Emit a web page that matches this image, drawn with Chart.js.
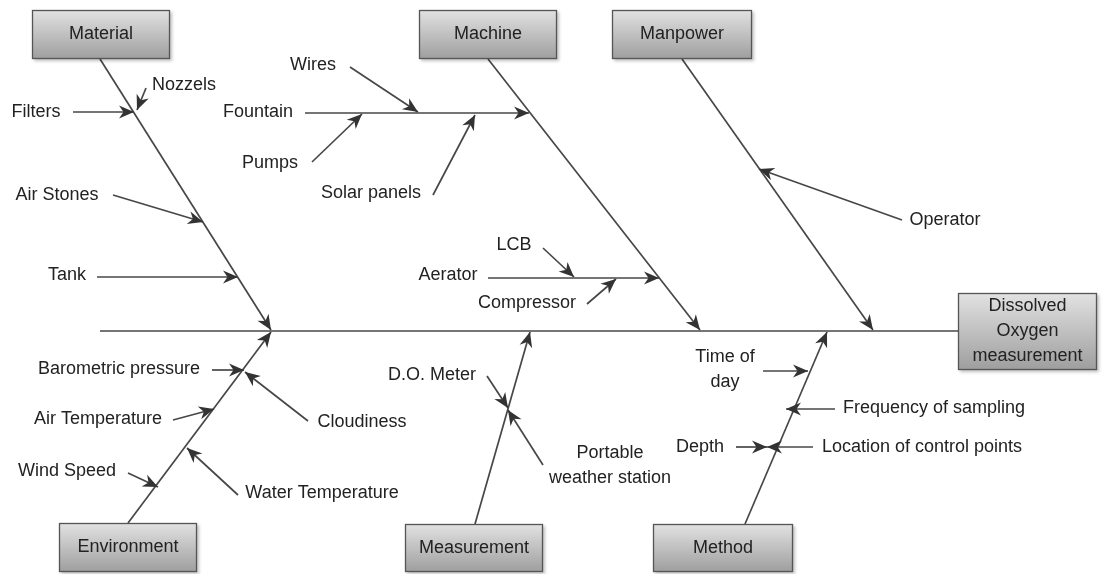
<!DOCTYPE html>
<html>
<head>
<meta charset="utf-8">
<script src="https://cdn.jsdelivr.net/npm/chart.js@4/dist/chart.umd.min.js"></script>
<style>
  html,body{margin:0;padding:0;background:#fff;}
  canvas{display:block;}
</style>
</head>
<body>
<canvas id="c" width="1105" height="574"></canvas>
<script>
// ---------- DATA (diagram coordinates in chart units) ----------
const effectLines = ['Dissolved', 'Oxygen', 'measurement'];
const effectBox = [958, 293, 1097, 370];

const categories = ['Material', 'Machine', 'Manpower', 'Environment', 'Measurement', 'Method'];
const categoryBoxX0 = [32, 419, 612, 59, 405, 653];
const categoryBoxX1 = [170, 557, 752, 197, 543, 793];
const categoryBoxY0 = [10, 10, 10, 523, 524, 524];
const categoryBoxY1 = [59, 59, 59, 572, 572, 572];

// spine (no arrowhead)
const spine = [100, 331, 958, 331];

// main bones: [x1, y1, x2, y2] arrow tip at (x2,y2)
const mainBones = [
  [100, 59, 271, 330],
  [488, 59, 700, 330],
  [682, 59, 873, 330],
  [128, 523, 271, 332],
  [475, 524, 530, 332],
  [745, 524, 827, 332]
];

// secondary branches with their own labels
const branches = ['Fountain', 'Aerator'];
const branchLines = [
  [305, 113, 529, 113],
  [488, 278, 659, 278]
];
const branchLabelX = [258, 448];
const branchLabelY = [112, 275];

// causes
const causes = [
  'Filters', 'Nozzels', 'Air Stones', 'Tank',
  'Wires', 'Pumps', 'Solar panels',
  'Operator',
  'LCB', 'Compressor',
  'Barometric pressure', 'Cloudiness', 'Air Temperature', 'Wind Speed', 'Water Temperature',
  'D.O. Meter', 'Portable\nweather station',
  'Time of\nday', 'Frequency of sampling', 'Depth', 'Location of control points'
];
const causeArrows = [
  [73, 112, 134, 112], [146, 88, 137, 110], [113, 195, 203, 222], [97, 277, 238, 277],
  [350, 67, 418, 112], [312, 162, 362, 114], [433, 195, 475, 115],
  [902, 220, 759, 169],
  [543, 248, 574, 277], [587, 304, 616, 279],
  [212, 370, 244, 370], [308, 421, 245, 372], [173, 420, 214, 409], [128, 473, 158, 487], [238, 495, 187, 448],
  [487, 376, 508, 408], [543, 465, 508, 410],
  [763, 371, 808, 371], [835, 409, 786, 409], [736, 447, 767, 447], [813, 447, 767, 447]
];
const causeLabelX = [36, 184, 57, 67, 313, 270, 371, 945, 514, 527, 119, 362, 98, 67, 322, 432, 610, 725, 934, 700, 922];
const causeLabelY = [112, 85, 195, 275, 65, 163, 193, 220, 245, 303, 369, 422, 419, 471, 493, 375, 466, 370, 408, 447, 447];

// ---------- STYLE ----------
const LINE = '#474747';
const HEAD = '#333333';
const TEXT = '#222222';
const FONT = '18px "Liberation Sans", Arial, sans-serif';

function seg(s, arrow) {
  return {
    data: [{x: s[0], y: s[1]}, {x: s[2], y: s[3]}],
    showLine: true, borderColor: LINE, borderWidth: 1.7,
    pointRadius: 0, fill: false, arrow: arrow
  };
}
const datasets = [seg(spine, false)];
mainBones.forEach(b => datasets.push(seg(b, true)));
branchLines.forEach(b => datasets.push(seg(b, true)));
causeArrows.forEach(b => datasets.push(seg(b, true)));

const fishPlugin = {
  id: 'fish',
  afterDatasetsDraw(chart) {
    const ctx = chart.ctx, xs = chart.scales.x, ys = chart.scales.y;
    const px = v => xs.getPixelForValue(v), py = v => ys.getPixelForValue(v);
    // arrowheads
    chart.data.datasets.forEach(ds => {
      if (!ds.arrow) return;
      const a = ds.data[0], b = ds.data[1];
      const x1 = px(a.x), y1 = py(a.y), x2 = px(b.x), y2 = py(b.y);
      const ang = Math.atan2(y2 - y1, x2 - x1);
      const L = 15, W = 6.5;
      const bx = x2 - L * Math.cos(ang), by = y2 - L * Math.sin(ang);
      ctx.save();
      ctx.fillStyle = HEAD;
      ctx.beginPath();
      ctx.moveTo(x2, y2);
      ctx.lineTo(bx + W * Math.sin(ang), by - W * Math.cos(ang));
      ctx.lineTo(x2 - 0.7 * L * Math.cos(ang), y2 - 0.7 * L * Math.sin(ang));
      ctx.lineTo(bx - W * Math.sin(ang), by + W * Math.cos(ang));
      ctx.closePath();
      ctx.fill();
      ctx.restore();
    });
    // boxes
    function box(x0, y0, x1, y1, lines) {
      const X0 = px(x0), Y0 = py(y0), X1 = px(x1), Y1 = py(y1);
      ctx.save();
      const g = ctx.createLinearGradient(0, Y0, 0, Y1);
      g.addColorStop(0, '#e2e2e2');
      g.addColorStop(1, '#9e9e9e');
      ctx.shadowColor = 'rgba(0,0,0,0.25)';
      ctx.shadowOffsetX = 2; ctx.shadowOffsetY = 2; ctx.shadowBlur = 3;
      ctx.fillStyle = g;
      ctx.fillRect(X0, Y0, X1 - X0, Y1 - Y0);
      ctx.shadowColor = 'transparent';
      ctx.strokeStyle = '#555555'; ctx.lineWidth = 1.3;
      ctx.strokeRect(X0 + 0.5, Y0 + 0.5, X1 - X0 - 1, Y1 - Y0 - 1);
      ctx.fillStyle = TEXT; ctx.font = FONT;
      ctx.textAlign = 'center'; ctx.textBaseline = 'middle';
      const cx = (X0 + X1) / 2, cy = (Y0 + Y1) / 2, lh = 25;
      lines.forEach((t, i) => ctx.fillText(t, cx, cy + (i - (lines.length - 1) / 2) * lh));
      ctx.restore();
    }
    categories.forEach((c, i) => box(categoryBoxX0[i], categoryBoxY0[i], categoryBoxX1[i], categoryBoxY1[i], [c]));
    box(effectBox[0], effectBox[1], effectBox[2], effectBox[3], effectLines);
    // labels
    ctx.save();
    ctx.fillStyle = TEXT; ctx.font = FONT;
    ctx.textAlign = 'center'; ctx.textBaseline = 'middle';
    function label(t, x, y) {
      const parts = t.split('\n'), lh = 25;
      parts.forEach((p, i) => ctx.fillText(p, px(x), py(y) + (i - (parts.length - 1) / 2) * lh));
    }
    causes.forEach((c, i) => label(c, causeLabelX[i], causeLabelY[i]));
    branches.forEach((b, i) => label(b, branchLabelX[i], branchLabelY[i]));
    ctx.restore();
  }
};

new Chart(document.getElementById('c'), {
  type: 'scatter',
  data: { datasets },
  options: {
    responsive: false, animation: false, devicePixelRatio: 1,
    layout: { padding: 0 },
    plugins: { legend: { display: false }, tooltip: { enabled: false } },
    scales: {
      x: { type: 'linear', min: 0, max: 1105, display: false },
      y: { type: 'linear', min: 0, max: 574, reverse: true, display: false }
    }
  },
  plugins: [fishPlugin]
});
</script>
</body>
</html>
